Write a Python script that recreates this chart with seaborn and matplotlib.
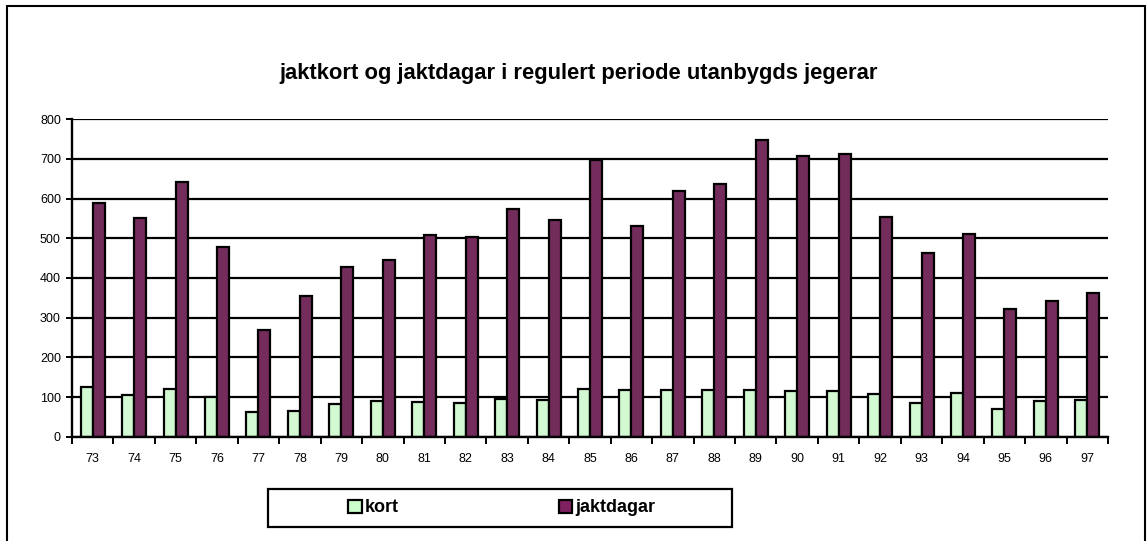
import pandas as pd
import numpy as np
import matplotlib
matplotlib.use("Agg")
import matplotlib.pyplot as plt
from matplotlib.patches import Patch, Rectangle
from matplotlib.ticker import MultipleLocator
import seaborn as sns

# data
years = ["73", "74", "75", "76", "77", "78", "79", "80", "81", "82", "83", "84", "85",
         "86", "87", "88", "89", "90", "91", "92", "93", "94", "95", "96", "97"]
kort = [126, 106, 120, 99, 61, 66, 83, 91, 87, 86, 94, 93, 121,
        118, 118, 118, 118, 115, 114, 107, 86, 109, 71, 90, 93]
jaktdagar = [588, 551, 642, 477, 268, 355, 428, 445, 509, 503, 573, 546, 697,
             531, 620, 637, 749, 707, 712, 553, 463, 510, 323, 343, 363]
series_names = ["kort", "jaktdagar"]
colors = ["#CCFFCC", "#802060"]

df = pd.DataFrame({"år": years * 2,
                   "verdi": kort + jaktdagar,
                   "serie": [series_names[0]] * len(years) + [series_names[1]] * len(years)})

sns.set_style("white")
plt.rcParams["font.family"] = ["Liberation Sans", "DejaVu Sans"]
plt.rcParams["text.color"] = "black"
plt.rcParams["xtick.color"] = "black"
plt.rcParams["ytick.color"] = "black"

W, H = 1148, 541
fig = plt.figure(figsize = (W / 100, H / 100), dpi = 100)
ax = fig.add_axes([72 / W, 1 - 436.7 / H, (1108 - 72) / W, (436.7 - 119.3) / H])

sns.barplot(data = df, x = "år", y = "verdi", hue = "serie", hue_order = series_names,
            palette = colors, edgecolor = "black", linewidth = 1.6, width = 0.58,
            dodge = True, legend = False, ax = ax, zorder = 3)

ax.set_ylim(0, 800)
ax.set_xlim(-0.5, len(years) - 0.5)
ax.yaxis.set_major_locator(MultipleLocator(100))
ax.grid(axis = "y", color = "black", linewidth = 1.6, zorder = 0)
ax.set_axisbelow(True)
for side in ["top", "right"]:
    ax.spines[side].set_visible(False)
for side in ["left", "bottom"]:
    ax.spines[side].set_color("black")
    ax.spines[side].set_linewidth(1.7)
    ax.spines[side].set_zorder(4)
ax.set_xlabel("")
ax.set_ylabel("")

# Excel-style ticks between categories
ax.set_xticks(np.arange(-0.5, len(years), 1.0), minor = True)
ax.tick_params(axis = "x", which = "minor", length = 5, width = 1.4, direction = "out", color = "black", bottom = True)
ax.tick_params(axis = "x", which = "major", length = 0, pad = 12, labelsize = 9, labelcolor = "black")
ax.tick_params(axis = "y", length = 4, width = 1.4, direction = "out", color = "black", left = True, pad = 4,
               labelsize = 9, labelcolor = "black")

fig.text(579 / W, 1 - 74 / H, "jaktkort og jaktdagar i regulert periode utanbygds jegerar",
         ha = "center", va = "center", fontsize = 15.8, fontweight = "bold", color = "black")

# legend with its own box
handles = [Patch(facecolor = c, edgecolor = "black", linewidth = 1.6, label = n) for c, n in zip(colors, series_names)]
fig.legend(handles = handles, loc = "center left", bbox_to_anchor = (348 / W, 1 - 508 / H),
           ncol = 2, frameon = False, prop = {"weight": "bold", "size": 13}, labelcolor = "black",
           handlelength = 0.75, handleheight = 0.75, handletextpad = 0.15, columnspacing = 8.9,
           borderpad = 0, borderaxespad = 0)
fig.add_artist(Rectangle((268 / W, 1 - 527 / H), 464 / W, 38 / H, transform = fig.transFigure,
                         fill = False, edgecolor = "black", linewidth = 1.6))

# outer chart border
fig.add_artist(Rectangle((7 / W, -0.05), (1145 - 7) / W, 1 - 6 / H + 0.05, transform = fig.transFigure,
                         fill = False, edgecolor = "black", linewidth = 1.5, clip_on = False))

fig.savefig("out.png", dpi = 100)
plt.close()
